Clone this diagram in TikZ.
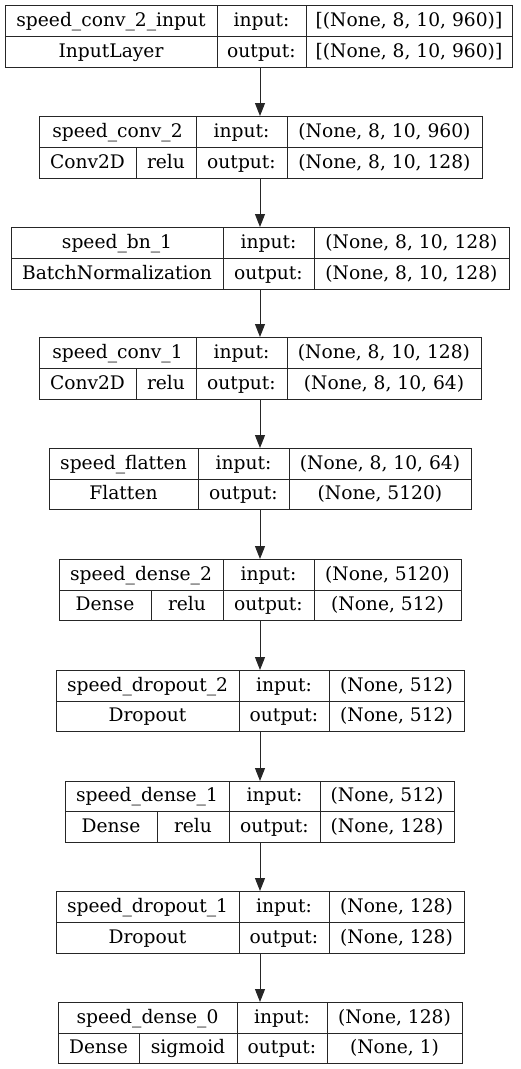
\documentclass[tikz,border=0pt]{standalone}
\usepackage{fontspec}
\setmainfont{DejaVu Serif}
\usetikzlibrary{arrows.meta}
\newcommand\cell[6]{\node[cellbox, minimum width={(#4-#2)*1pt}, minimum height={(#5-#3)*1pt}, anchor=north west] (#1) at (#2,#3) {#6};}
\begin{document}
\begin{tikzpicture}[x=1pt,y=-1pt,
  cellbox/.style={draw=black!85, line width=1pt, inner sep=0pt, outer sep=0pt, rectangle, text height=14pt, text depth=3pt, font=\fontsize{18.67}{22}\selectfont},
  arr/.style={draw=black!85, line width=1pt, -{Triangle[length=13pt,width=10pt]}}]
\useasboundingbox (0,0) rectangle (520,1069);
\coordinate (ax) at (260,0);
% layer 1
\cell{l1}{5}{5}{512}{67}{}
\cell{l1a}{5}{5}{217}{36}{speed\_conv\_2\_input}
\cell{l1b}{217}{5}{306}{36}{input:}
\cell{l1c}{306}{5}{512}{36}{[(None, 8, 10, 960)]}
\cell{l1d}{5}{36}{217}{67}{InputLayer}
\cell{l1e}{217}{36}{306}{67}{output:}
\cell{l1f}{306}{36}{512}{67}{[(None, 8, 10, 960)]}
% layer 2
\cell{l2}{39}{116}{482}{178}{}
\cell{l2a}{39}{116}{196}{147}{speed\_conv\_2}
\cell{l2b}{196}{116}{287}{147}{input:}
\cell{l2c}{287}{116}{482}{147}{(None, 8, 10, 960)}
\cell{l2d}{39}{147}{136}{178}{Conv2D}
\cell{l2g}{136}{147}{196}{178}{relu}
\cell{l2e}{196}{147}{287}{178}{output:}
\cell{l2f}{287}{147}{482}{178}{(None, 8, 10, 128)}
% layer 3
\cell{l3}{11}{227}{509}{289}{}
\cell{l3a}{11}{227}{223}{258}{speed\_bn\_1}
\cell{l3b}{223}{227}{314}{258}{input:}
\cell{l3c}{314}{227}{509}{258}{(None, 8, 10, 128)}
\cell{l3d}{11}{258}{223}{289}{BatchNormalization}
\cell{l3e}{223}{258}{314}{289}{output:}
\cell{l3f}{314}{258}{509}{289}{(None, 8, 10, 128)}
% layer 4
\cell{l4}{39}{337}{481}{399}{}
\cell{l4a}{39}{337}{196}{368}{speed\_conv\_1}
\cell{l4b}{196}{337}{287}{368}{input:}
\cell{l4c}{287}{337}{481}{368}{(None, 8, 10, 128)}
\cell{l4d}{39}{368}{136}{399}{Conv2D}
\cell{l4g}{136}{368}{196}{399}{relu}
\cell{l4e}{196}{368}{287}{399}{output:}
\cell{l4f}{287}{368}{481}{399}{(None, 8, 10, 64)}
% layer 5
\cell{l5}{49}{448}{471}{509}{}
\cell{l5a}{49}{448}{198}{479}{speed\_flatten}
\cell{l5b}{198}{448}{289}{479}{input:}
\cell{l5c}{289}{448}{471}{479}{(None, 8, 10, 64)}
\cell{l5d}{49}{479}{198}{509}{Flatten}
\cell{l5e}{198}{479}{289}{509}{output:}
\cell{l5f}{289}{479}{471}{509}{(None, 5120)}
% layer 6
\cell{l6}{59}{559}{461}{620}{}
\cell{l6a}{59}{559}{223}{590}{speed\_dense\_2}
\cell{l6b}{223}{559}{314}{590}{input:}
\cell{l6c}{314}{559}{461}{590}{(None, 5120)}
\cell{l6d}{59}{590}{151}{620}{Dense}
\cell{l6g}{151}{590}{223}{620}{relu}
\cell{l6e}{223}{590}{314}{620}{output:}
\cell{l6f}{314}{590}{461}{620}{(None, 512)}
% layer 7
\cell{l7}{56}{670}{464}{731}{}
\cell{l7a}{56}{670}{239}{701}{speed\_dropout\_2}
\cell{l7b}{239}{670}{329}{701}{input:}
\cell{l7c}{329}{670}{464}{701}{(None, 512)}
\cell{l7d}{56}{701}{239}{731}{Dropout}
\cell{l7e}{239}{701}{329}{731}{output:}
\cell{l7f}{329}{701}{464}{731}{(None, 512)}
% layer 8
\cell{l8}{65}{781}{454}{842}{}
\cell{l8a}{65}{781}{229}{811}{speed\_dense\_1}
\cell{l8b}{229}{781}{320}{811}{input:}
\cell{l8c}{320}{781}{454}{811}{(None, 512)}
\cell{l8d}{65}{811}{157}{842}{Dense}
\cell{l8g}{157}{811}{229}{842}{relu}
\cell{l8e}{229}{811}{320}{842}{output:}
\cell{l8f}{320}{811}{454}{842}{(None, 128)}
% layer 9
\cell{l9}{56}{891}{464}{953}{}
\cell{l9a}{56}{891}{239}{922}{speed\_dropout\_1}
\cell{l9b}{239}{891}{329}{922}{input:}
\cell{l9c}{329}{891}{464}{922}{(None, 128)}
\cell{l9d}{56}{922}{239}{953}{Dropout}
\cell{l9e}{239}{922}{329}{953}{output:}
\cell{l9f}{329}{922}{464}{953}{(None, 128)}
% layer 10
\cell{l10}{58}{1002}{462}{1063}{}
\cell{l10a}{58}{1002}{237}{1033}{speed\_dense\_0}
\cell{l10b}{237}{1002}{327}{1033}{input:}
\cell{l10c}{327}{1002}{462}{1033}{(None, 128)}
\cell{l10d}{58}{1033}{139}{1063}{Dense}
\cell{l10g}{139}{1033}{237}{1063}{sigmoid}
\cell{l10e}{237}{1033}{327}{1063}{output:}
\cell{l10f}{327}{1033}{462}{1063}{(None, 1)}
% connectors
\foreach \a/\b in {l1/l2,l2/l3,l3/l4,l4/l5,l5/l6,l6/l7,l7/l8,l8/l9,l9/l10}
  \draw[arr] (\a.south -| ax) -- (\b.north -| ax);
\end{tikzpicture}
\end{document}
